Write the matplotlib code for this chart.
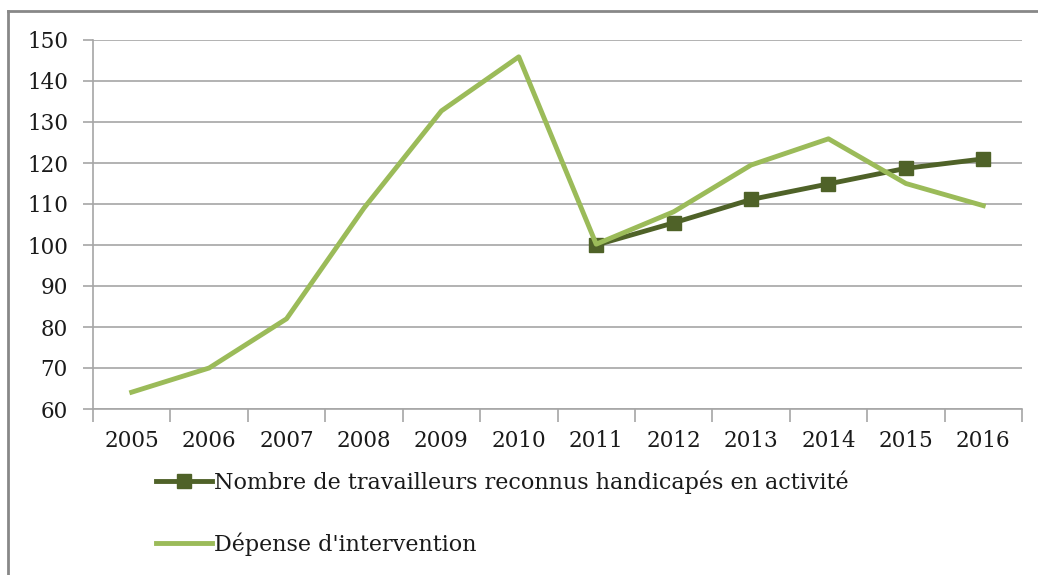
import matplotlib.pyplot as plt
from matplotlib.lines import Line2D

# Data
years = ['2005', '2006', '2007', '2008', '2009', '2010',
         '2011', '2012', '2013', '2014', '2015', '2016']
depense = [64.1, 70.0, 82.0, 109.0, 132.7, 145.9,
           100.2, 108.1, 119.5, 125.9, 115.0, 109.6]
travailleurs_years = ['2011', '2012', '2013', '2014', '2015', '2016']
travailleurs = [100.0, 105.4, 111.1, 114.9, 118.7, 121.0]

dark_green = '#4f6228'
light_green = '#9bbb59'
grid_grey = '#a6a6a6'

plt.rcParams['font.family'] = ['DejaVu Serif']

fig = plt.figure(figsize=(10.38, 5.75), dpi=100)
ax = fig.add_axes([93 / 1038, 1 - 409 / 575, (1022 - 93) / 1038, (409 - 40) / 575])

x = list(range(len(years)))
x_trav = [years.index(y) for y in travailleurs_years]

ax.plot(x_trav, travailleurs, color=dark_green, lw=3.5, marker='s', ms=10,
        label='Nombre de travailleurs reconnus handicapés en activité', zorder=3)
ax.plot(x, depense, color=light_green, lw=3.5,
        label="Dépense d'intervention", zorder=4)

ax.set_xlim(-0.5, len(years) - 0.5)
ax.set_ylim(60, 150)
ax.set_yticks(range(60, 151, 10))
ax.yaxis.grid(True, color=grid_grey, lw=1.2)
ax.set_axisbelow(True)

# category labels centred, tick marks between categories
ax.set_xticks(x)
ax.set_xticklabels(years)
ax.set_xticks([i - 0.5 for i in range(len(years) + 1)], minor=True)
ax.tick_params(axis='x', which='major', length=0, pad=15, labelsize=15.5, labelcolor='#1a1a1a')
ax.tick_params(axis='x', which='minor', length=9, color=grid_grey, width=1.2)
ax.tick_params(axis='y', length=7, color=grid_grey, width=1.2, labelsize=15.5,
               pad=11, labelcolor='#1a1a1a')

for side in ['top', 'right']:
    ax.spines[side].set_visible(False)
for side in ['left', 'bottom']:
    ax.spines[side].set_color(grid_grey)
    ax.spines[side].set_linewidth(1.2)

# chart frame (top and left edges visible)
fig.add_artist(Line2D([8 / 1038, 1.01], [1 - 11 / 575, 1 - 11 / 575],
                      transform=fig.transFigure, color='#888888', lw=2))
fig.add_artist(Line2D([8 / 1038, 8 / 1038], [-0.01, 1 - 11 / 575],
                      transform=fig.transFigure, color='#888888', lw=2))

leg = fig.legend(loc='upper left', bbox_to_anchor=(145 / 1038, 1 - 459 / 575),
                 frameon=False, fontsize=16, handlelength=2.5, handletextpad=0.1,
                 labelspacing=1.75, borderpad=0)
for t in leg.get_texts():
    t.set_color('#1a1a1a')

fig.savefig('out.png', dpi=100)
